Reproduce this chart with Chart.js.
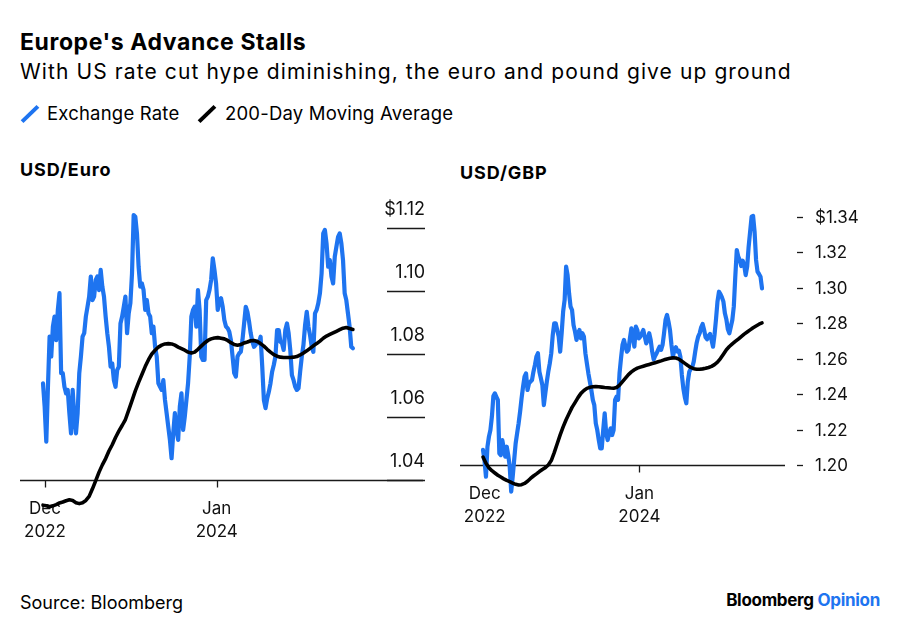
<!DOCTYPE html>
<html>
<head>
<meta charset="utf-8">
<script src="https://cdn.jsdelivr.net/npm/chart.js@4.4.1/dist/chart.umd.min.js"></script>
<style>
  html, body { margin: 0; padding: 0; background: #fff; }
  #page { position: relative; width: 900px; height: 631px; overflow: hidden; font-family: Inter, "Liberation Sans", Arial, sans-serif; color: #000; }
  .txt { position: absolute; white-space: nowrap; line-height: 1; }
  #title { left: 20px; top: 31px; font-size: 23px; font-weight: 700; letter-spacing: 0.6px; }
  #subtitle { left: 20px; top: 61px; font-size: 21px; letter-spacing: 1.1px; }
  .legendText { top: 104px; font-size: 18.5px; letter-spacing: 0.2px; }
  .swatch { position: absolute; width: 4px; height: 22px; top: 103px; transform: rotate(46deg); }
  .panelTitle { font-size: 18px; font-weight: 700; letter-spacing: 0.9px; }
  #source { left: 20px; top: 594px; font-size: 18px; }
  #brand { right: 20px; top: 592px; font-size: 17px; font-weight: 700; letter-spacing: -0.3px; }
  #brand span { color: #1e74f0; }
  canvas { position: absolute; top: 150px; }
</style>
</head>
<body>
<div id="page">
  <div class="txt" id="title">Europe's Advance Stalls</div>
  <div class="txt" id="subtitle">With US rate cut hype diminishing, the euro and pound give up ground</div>
  <div class="swatch" style="left: 28px; background: #1e74f0;"></div>
  <div class="txt legendText" style="left: 47px;">Exchange Rate</div>
  <div class="swatch" style="left: 205px; background: #000;"></div>
  <div class="txt legendText" style="left: 225px;">200-Day Moving Average</div>
  <div class="txt panelTitle" style="left: 20px; top: 161px;">USD/Euro</div>
  <div class="txt panelTitle" style="left: 460px; top: 164px;">USD/GBP</div>
  <canvas id="eurChart" width="440" height="420" style="left: 0px;"></canvas>
  <canvas id="gbpChart" width="460" height="420" style="left: 440px;"></canvas>
  <div class="txt" id="source">Source: Bloomberg</div>
  <div class="txt" id="brand">Bloomberg <span>Opinion</span></div>
</div>
<script>
// exchange rates: twice-weekly readings, late Dec 2022 to late Oct 2024
const eurRate = [
    1.0707, 1.0633, 1.0522, 1.0696, 1.0855, 1.0792, 1.0887, 1.0919, 1.0844, 1.0940,
    1.0993, 1.0739, 1.0739, 1.0696, 1.0675, 1.0686, 1.0612, 1.0548, 1.0686, 1.0601,
    1.0548, 1.0612, 1.0739, 1.0792, 1.0855, 1.0866, 1.0919, 1.0950, 1.0982, 1.1046,
    1.0971, 1.0982, 1.1035, 1.1046, 1.1003, 1.1067, 1.1014, 1.0982, 1.0919, 1.0866,
    1.0823, 1.0760, 1.0770, 1.0717, 1.0696, 1.0749, 1.0760, 1.0897, 1.0919, 1.0950,
    1.0982, 1.0866, 1.0929, 1.0961, 1.1056, 1.1241, 1.1236, 1.1183, 1.1077, 1.1014,
    1.1024, 1.1003, 1.0940, 1.0971, 1.0929, 1.0919, 1.0866, 1.0887, 1.0823, 1.0792,
    1.0707, 1.0696, 1.0686, 1.0717, 1.0654, 1.0612, 1.0569, 1.0527, 1.0469, 1.0548,
    1.0612, 1.0559, 1.0527, 1.0633, 1.0675, 1.0559, 1.0601, 1.0654, 1.0707, 1.0792,
    1.0919, 1.0940, 1.0950, 1.0887, 1.1003, 1.0940, 1.0792, 1.0781, 1.0781, 1.0971,
    1.0982, 1.1003, 1.1035, 1.1104, 1.1067, 1.1024, 1.0940, 1.0971, 1.0977, 1.0950,
    1.0908, 1.0887, 1.0882, 1.0871, 1.0844, 1.0792, 1.0739, 1.0728, 1.0792, 1.0802,
    1.0807, 1.0844, 1.0897, 1.0950, 1.0934, 1.0903, 1.0866, 1.0839, 1.0823, 1.0829,
    1.0839, 1.0834, 1.0855, 1.0760, 1.0654, 1.0628, 1.0659, 1.0680, 1.0707, 1.0744,
    1.0765, 1.0792, 1.0876, 1.0876, 1.0839, 1.0834, 1.0813, 1.0876, 1.0897, 1.0866,
    1.0813, 1.0733, 1.0717, 1.0696, 1.0686, 1.0691, 1.0744, 1.0792, 1.0829, 1.0892,
    1.0934, 1.0887, 1.0860, 1.0823, 1.0807, 1.0929, 1.0940, 1.0961, 1.0993, 1.1056,
    1.1183, 1.1194, 1.1151, 1.1077, 1.1098, 1.1046, 1.1024, 1.1109, 1.1141, 1.1172,
    1.1183, 1.1151, 1.1098, 1.0993, 1.0971, 1.0929, 1.0887, 1.0823, 1.0818];
const gbpRate = [
    1.2085, 1.2028, 1.1934, 1.2103, 1.2160, 1.2197, 1.2273, 1.2389, 1.2404, 1.2385,
    1.2367, 1.2066, 1.2056, 1.2141, 1.2094, 1.2047, 1.2103, 1.2056, 1.1991, 1.1850,
    1.1934, 1.2028, 1.2122, 1.2179, 1.2235, 1.2301, 1.2376, 1.2442, 1.2498, 1.2517,
    1.2423, 1.2461, 1.2470, 1.2479, 1.2526, 1.2564, 1.2611, 1.2630, 1.2526, 1.2489,
    1.2451, 1.2338, 1.2404, 1.2470, 1.2526, 1.2573, 1.2630, 1.2733, 1.2799, 1.2799,
    1.2761, 1.2724, 1.2639, 1.2743, 1.2865, 1.2930, 1.3118, 1.3071, 1.2968, 1.2893,
    1.2874, 1.2789, 1.2752, 1.2705, 1.2743, 1.2761, 1.2714, 1.2743, 1.2724, 1.2630,
    1.2573, 1.2517, 1.2470, 1.2423, 1.2367, 1.2338, 1.2235, 1.2197, 1.2141, 1.2094,
    1.2094, 1.2197, 1.2291, 1.2179, 1.2141, 1.2179, 1.2207, 1.2169, 1.2197, 1.2367,
    1.2385, 1.2367, 1.2517, 1.2602, 1.2677, 1.2705, 1.2667, 1.2639, 1.2649, 1.2714,
    1.2771, 1.2724, 1.2667, 1.2780, 1.2761, 1.2714, 1.2724, 1.2743, 1.2761, 1.2724,
    1.2686, 1.2705, 1.2743, 1.2705, 1.2639, 1.2596, 1.2615, 1.2630, 1.2649, 1.2667,
    1.2649, 1.2677, 1.2743, 1.2818, 1.2846, 1.2808, 1.2761, 1.2677, 1.2611, 1.2649,
    1.2664, 1.2639, 1.2645, 1.2611, 1.2508, 1.2432, 1.2382, 1.2348, 1.2470, 1.2526,
    1.2541, 1.2551, 1.2583, 1.2639, 1.2690, 1.2724, 1.2743, 1.2776, 1.2795, 1.2761,
    1.2720, 1.2709, 1.2728, 1.2739, 1.2705, 1.2667, 1.2733, 1.2821, 1.2921, 1.2977,
    1.2964, 1.2945, 1.2921, 1.2855, 1.2821, 1.2765, 1.2743, 1.2780, 1.2818, 1.2893,
    1.3062, 1.3212, 1.3175, 1.3156, 1.3122, 1.3152, 1.3128, 1.3071, 1.3118, 1.3231,
    1.3316, 1.3400, 1.3404, 1.3316, 1.3156, 1.3090, 1.3077, 1.3062, 1.2996];

// 200-day moving averages: weekly readings over the same span
const eurAvg = [1.0320, 1.0318, 1.0315, 1.0318, 1.0322, 1.0327, 1.0330, 1.0334, 1.0337, 1.0335,
    1.0328, 1.0325, 1.0328, 1.0335, 1.0348, 1.0372, 1.0398, 1.0425, 1.0448, 1.0468,
    1.0492, 1.0512, 1.0535, 1.0555, 1.0573, 1.0592, 1.0622, 1.0652, 1.0683, 1.0710,
    1.0735, 1.0760, 1.0782, 1.0800, 1.0812, 1.0822, 1.0828, 1.0832, 1.0833, 1.0832,
    1.0828, 1.0822, 1.0817, 1.0812, 1.0806, 1.0803, 1.0806, 1.0815, 1.0825, 1.0835,
    1.0843, 1.0848, 1.0851, 1.0852, 1.0850, 1.0848, 1.0843, 1.0836, 1.0830, 1.0828,
    1.0830, 1.0835, 1.0838, 1.0842, 1.0843, 1.0840, 1.0833, 1.0825, 1.0815, 1.0806,
    1.0798, 1.0793, 1.0790, 1.0789, 1.0789, 1.0789, 1.0790, 1.0792, 1.0797, 1.0803,
    1.0810, 1.0818, 1.0826, 1.0833, 1.0841, 1.0850, 1.0857, 1.0862, 1.0867, 1.0872,
    1.0877, 1.0882, 1.0884, 1.0881, 1.0878];
const gbpAvg = [1.2045, 1.2010, 1.1985, 1.1968, 1.1955, 1.1942, 1.1932, 1.1922, 1.1913, 1.1906,
    1.1898, 1.1891, 1.1887, 1.1889, 1.1896, 1.1908, 1.1924, 1.1938, 1.1950, 1.1963,
    1.1975, 1.1985, 1.2000, 1.2025, 1.2070, 1.2120, 1.2170, 1.2215, 1.2255, 1.2290,
    1.2325, 1.2352, 1.2380, 1.2404, 1.2420, 1.2432, 1.2438, 1.2441, 1.2442, 1.2441,
    1.2439, 1.2437, 1.2436, 1.2434, 1.2433, 1.2437, 1.2450, 1.2470, 1.2490, 1.2510,
    1.2525, 1.2537, 1.2546, 1.2552, 1.2557, 1.2562, 1.2567, 1.2572, 1.2577, 1.2582,
    1.2587, 1.2593, 1.2598, 1.2602, 1.2604, 1.2603, 1.2597, 1.2585, 1.2573, 1.2561,
    1.2550, 1.2543, 1.2540, 1.2540, 1.2542, 1.2545, 1.2550, 1.2556, 1.2566, 1.2580,
    1.2600, 1.2625, 1.2650, 1.2668, 1.2683, 1.2697, 1.2710, 1.2724, 1.2738, 1.2750,
    1.2762, 1.2774, 1.2784, 1.2794, 1.2801];

const eurTicks = [1.04, 1.06, 1.08, 1.10, 1.12];
const eurTickLabels = ['1.04', '1.06', '1.08', '1.10', '$1.12'];
const gbpTicks = [1.20, 1.22, 1.24, 1.26, 1.28, 1.30, 1.32, 1.34];
const gbpTickLabels = ['1.20', '1.22', '1.24', '1.26', '1.28', '1.30', '1.32', '$1.34'];
const dateTicks = [0.6, 52.7];  // weeks from the first reading
const dateTickLabels = [['Dec', '2022'], ['Jan', '2024']];

const BLUE = '#1e74f0';
const FONT = 'Inter, "Liberation Sans", Arial, sans-serif';

// step = spacing of the readings, in weeks
function toPoints(values, step) {
    return values.map((v, i) => ({ x: i * step, y: v }));
}

// Bloomberg-style axes: baseline, date ticks and value labels
const bbgAxes = {
    id: 'bbgAxes',
    beforeDatasetsDraw(chart, args, o) {
        const { ctx, chartArea: area, scales: { x, y } } = chart;
        const base = Math.round(y.getPixelForValue(o.baseline)) + 0.5;
        ctx.save();
        ctx.strokeStyle = '#1a1a1a';
        ctx.lineWidth = 1.3;
        ctx.beginPath();
        ctx.moveTo(area.left, base);
        ctx.lineTo(area.right, base);
        o.xTicks.forEach(t => {
            const px = Math.round(x.getPixelForValue(t)) + 0.5;
            ctx.moveTo(px, base);
            ctx.lineTo(px, base + 7);
        });
        ctx.stroke();

        ctx.fillStyle = '#111';
        ctx.font = '17px ' + FONT;
        ctx.textAlign = 'center';
        ctx.textBaseline = 'middle';
        o.xTicks.forEach((t, i) => {
            const px = x.getPixelForValue(t);
            o.xLabels[i].forEach((line, j) => ctx.fillText(line, px, base + 28 + j * 23.5));
        });

        o.yTicks.forEach((v, i) => {
            const py = Math.round(y.getPixelForValue(v)) + 0.5;
            ctx.beginPath();
            if (o.inside) {
                ctx.lineWidth = 1.5;
                ctx.moveTo(area.right - 36, py);
                ctx.lineTo(area.right + 2, py);
                ctx.stroke();
                ctx.font = '18px ' + FONT;
                ctx.textAlign = 'right';
                ctx.fillText(o.yLabels[i], area.right + 2, py - 18.5);
            } else {
                ctx.lineWidth = 1.3;
                ctx.moveTo(area.right + 12, py);
                ctx.lineTo(area.right + 18, py);
                ctx.stroke();
                ctx.font = '17px ' + FONT;
                ctx.textAlign = 'left';
                ctx.fillText(o.yLabels[i], area.right + 30, py);
            }
        });
        ctx.restore();
    }
};

function makeChart(id, rate, avg, padding, xRange, yRange, axisOpts) {
    return new Chart(document.getElementById(id), {
        type: 'line',
        data: {
            datasets: [
                { label: '200-Day Moving Average', data: toPoints(avg, 1), borderColor: '#000', borderWidth: 3.6 },
                { label: 'Exchange Rate', data: toPoints(rate, 0.5), borderColor: BLUE, borderWidth: 4.2 }
            ]
        },
        options: {
            responsive: false,
            animation: false,
            layout: { padding },
            elements: {
                point: { radius: 0 },
                line: { tension: 0, borderJoinStyle: 'round', borderCapStyle: 'round' }
            },
            plugins: {
                legend: { display: false },
                tooltip: { enabled: false },
                bbgAxes: axisOpts
            },
            scales: {
                x: { type: 'linear', display: false, min: xRange[0], max: xRange[1] },
                y: { display: false, min: yRange[0], max: yRange[1] }
            }
        },
        plugins: [bbgAxes]
    });
}

makeChart('eurChart', eurRate, eurAvg,
    { left: 20, right: 17, top: 50, bottom: 50 },
    [-6.976, 115.26], [1.0273, 1.12889],
    { baseline: 1.04, inside: true, xTicks: dateTicks, xLabels: dateTickLabels, yTicks: eurTicks, yLabels: eurTickLabels });

makeChart('gbpChart', gbpRate, gbpAvg,
    { left: 20, right: 115, top: 50, bottom: 65 },
    [-7.749, 101.75], [1.17745, 1.34942],
    { baseline: 1.20, inside: false, xTicks: dateTicks, xLabels: dateTickLabels, yTicks: gbpTicks, yLabels: gbpTickLabels });
</script>
</body>
</html>
